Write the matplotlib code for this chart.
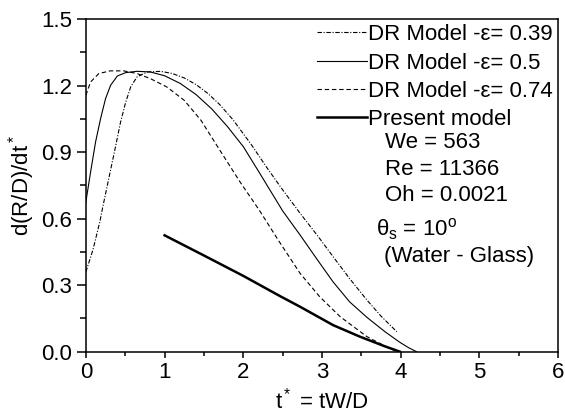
import matplotlib
matplotlib.use('Agg')
import matplotlib.pyplot as plt
from matplotlib.ticker import MultipleLocator, FormatStrFormatter

plt.rcParams['font.family'] = ['Liberation Sans', 'DejaVu Sans']
plt.rcParams['mathtext.fontset'] = 'custom'
plt.rcParams['mathtext.rm'] = 'Liberation Sans'
plt.rcParams['mathtext.it'] = 'Liberation Sans'
plt.rcParams['mathtext.sf'] = 'Liberation Sans'

# DR model, eps = 0.39 (dash-dot)
t_039 = [0, 0.09, 0.18, 0.21, 0.29, 0.38, 0.44, 0.505, 0.57, 0.65, 0.78, 0.95, 1.1, 1.25,
         1.4, 1.55, 1.7, 1.87, 2.1, 2.3, 2.5, 2.72, 2.95, 3.14, 3.35, 3.57, 3.75, 3.95]
y_039 = [0.36, 0.46, 0.59, 0.645, 0.78, 0.931, 1.035, 1.125, 1.195, 1.24, 1.262, 1.265, 1.255, 1.235,
         1.205, 1.165, 1.115, 1.046, 0.935, 0.83, 0.73, 0.625, 0.52, 0.429, 0.33, 0.233, 0.16, 0.09]

# DR model, eps = 0.5 (thin solid)
t_05 = [0, 0.06, 0.123, 0.187, 0.25, 0.314, 0.40, 0.505, 0.65, 0.82, 1.0, 1.2, 1.4, 1.6,
        1.8, 2.0, 2.2, 2.5, 2.72, 2.95, 3.14, 3.35, 3.57, 3.8, 3.99, 4.1, 4.2]
y_05 = [0.676, 0.811, 0.946, 1.052, 1.142, 1.202, 1.244, 1.259, 1.265, 1.262, 1.245, 1.21, 1.16, 1.095,
        1.015, 0.925, 0.81, 0.635, 0.527, 0.41, 0.315, 0.225, 0.155, 0.09, 0.042, 0.018, 0.0]

# DR model, eps = 0.74 (dashed)
t_074 = [0, 0.06, 0.165, 0.31, 0.48, 0.65, 0.82, 1.03, 1.25, 1.46, 1.7, 1.96, 2.2, 2.45,
         2.72, 2.97, 3.23, 3.57, 3.8, 3.95]
y_074 = [1.157, 1.217, 1.255, 1.267, 1.267, 1.255, 1.232, 1.194, 1.134, 1.045, 0.91, 0.765, 0.64, 0.5,
         0.354, 0.248, 0.158, 0.068, 0.025, 0.0]

# present model (thick solid)
t_pm = [1.0, 1.5, 2.0, 2.46, 2.72, 3.14, 3.48, 3.8, 3.99]
y_pm = [0.525, 0.434, 0.342, 0.252, 0.203, 0.12, 0.068, 0.024, 0.0]

labels = ['DR Model -ε= 0.39', 'DR Model -ε= 0.5', 'DR Model -ε= 0.74', 'Present model']

fig = plt.figure(figsize=(5.65, 4.18), dpi=100)
ax = fig.add_axes([0.152, 0.1586, 0.836, 0.7954])

ax.plot(t_039, y_039, color='black', lw=0.8, dashes=(4, 1.5, 1, 1.5), label=labels[0])
ax.plot(t_05, y_05, color='black', lw=0.8, label=labels[1])
ax.plot(t_074, y_074, color='black', lw=0.8, dashes=(4, 2.5), label=labels[2])
ax.plot(t_pm, y_pm, color='black', lw=1.8, label=labels[3])

ax.set_xlim(0, 6)
ax.set_ylim(0, 1.5)
ax.xaxis.set_major_locator(MultipleLocator(1))
ax.xaxis.set_minor_locator(MultipleLocator(0.5))
ax.yaxis.set_major_locator(MultipleLocator(0.3))
ax.yaxis.set_minor_locator(MultipleLocator(0.15))
ax.yaxis.set_major_formatter(FormatStrFormatter('%.1f'))
ax.tick_params(axis='both', which='both', direction='out', labelsize=16, width=1.1)
ax.tick_params(axis='x', which='major', length=4)
ax.tick_params(axis='x', which='minor', length=3)
ax.tick_params(axis='y', which='major', length=6.5)
ax.tick_params(axis='y', which='minor', length=4.3)
for s in ax.spines.values():
    s.set_linewidth(1.1)

ax.set_xlabel('t$^*$ = tW/D', fontsize=16, labelpad=3)
ax.set_ylabel('d(R/D)/dt$^*$', fontsize=16, labelpad=3)

ax.legend(loc='upper right', bbox_to_anchor=(0.988, 0.985), frameon=False, fontsize=16,
          handlelength=2.25, handletextpad=0.05, labelspacing=0.33, borderpad=0, borderaxespad=0)

ax.text(3.80, 0.944, 'We = 563', fontsize=16, va='center')
ax.text(3.80, 0.824, 'Re = 11366', fontsize=16, va='center')
ax.text(3.80, 0.703, 'Oh = 0.0021', fontsize=16, va='center')
ax.text(3.69, 0.553, r'$\theta_s$ = 10$^o$', fontsize=16, va='center')
ax.text(3.79, 0.43, '(Water - Glass)', fontsize=16, va='center')

fig.savefig('out.png', dpi=100)
